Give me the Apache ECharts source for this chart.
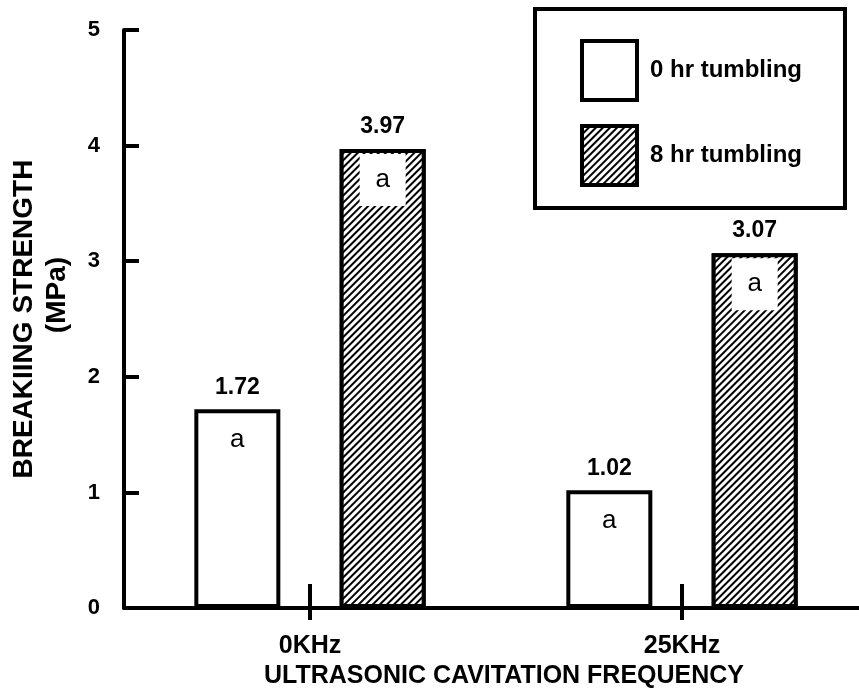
<!DOCTYPE html>
<html>
<head>
<meta charset="utf-8">
<script src="https://cdn.jsdelivr.net/npm/echarts@6/dist/echarts.min.js"></script>
<style>
html,body{margin:0;padding:0;background:#fff;overflow:hidden;}
#chart{width:880px;height:694px;}
</style>
</head>
<body>
<div id="chart"></div>
<script>
const categories = ['0KHz', '25KHz'];
const seriesNames = ['0 hr tumbling', '8 hr tumbling'];
const values0hr = [1.72, 1.02];
const values8hr = [3.97, 3.07];
const letters0hr = ['a', 'a'];
const letters8hr = ['a', 'a'];
const yTickValues = [0, 1, 2, 3, 4, 5];

const FONT = '"Liberation Sans", Arial, Helvetica, sans-serif';

const hatch = {
  symbol: 'rect',
  symbolSize: 1,
  dashArrayX: [1, 0],
  dashArrayY: [2, 3],
  rotation: -Math.PI / 4,
  color: '#000',
  backgroundColor: '#fff'
};

function makeLabel(letters) {
  return {
    show: true,
    position: 'insideTop',
    distance: 5,
    offset: [0, -54],
    formatter: p => '{v|' + p.value.toFixed(2) + '}\n{a|' + letters[p.dataIndex] + '}',
    rich: {
      v: { fontFamily: FONT, fontWeight: 'bold', fontSize: 23, lineHeight: 54, color: '#000', align: 'center' },
      a: { fontFamily: FONT, fontWeight: 'normal', fontSize: 26, height: 52, lineHeight: 52, width: 46,
           backgroundColor: '#fff', color: '#000', align: 'center' }
    }
  };
}

const chart = echarts.init(document.getElementById('chart'), null, { renderer: 'canvas' });
chart.setOption({
  backgroundColor: '#fff',
  animation: false,
  grid: { left: 124, right: 12, top: 30, bottom: 82, containLabel: false },
  legend: {
    orient: 'vertical',
    left: 535,
    top: 9,
    padding: [30, 43, 21, 45],
    itemWidth: 55,
    itemHeight: 59,
    itemGap: 22,
    borderColor: '#000',
    borderWidth: 4,
    textStyle: { fontFamily: FONT, fontWeight: 'bold', fontSize: 24, color: '#000', padding: [0, 0, 0, 8] },
    data: [
      { name: seriesNames[0], icon: 'rect', itemStyle: { color: '#fff', borderColor: '#000', borderWidth: 4 } },
      { name: seriesNames[1], icon: 'rect', itemStyle: { color: '#fff', borderColor: '#000', borderWidth: 4, decal: hatch } }
    ]
  },
  xAxis: [
    {
      type: 'category',
      data: categories,
      boundaryGap: true,
      axisLine: { show: true, lineStyle: { color: '#000', width: 4 } },
      axisTick: { show: true, alignWithLabel: true, inside: true, length: 24, lineStyle: { color: '#000', width: 4 } },
      axisLabel: { margin: 26, fontFamily: FONT, fontWeight: 'bold', fontSize: 25, color: '#000' },
      name: 'ULTRASONIC CAVITATION FREQUENCY',
      nameLocation: 'middle',
      nameGap: 53,
      nameTextStyle: { fontFamily: FONT, fontWeight: 'bold', fontSize: 25, color: '#000', padding: [0, 0, 0, 16] }
    },
    {
      type: 'category',
      data: categories,
      position: 'bottom',
      boundaryGap: true,
      axisLine: { show: false },
      axisTick: { show: true, alignWithLabel: true, inside: false, length: 12, lineStyle: { color: '#000', width: 4 } },
      axisLabel: { show: false }
    }
  ],
  yAxis: {
    type: 'value',
    min: yTickValues[0],
    max: yTickValues[yTickValues.length - 1],
    interval: 1,
    splitLine: { show: false },
    axisLine: { show: true, lineStyle: { color: '#000', width: 4 } },
    axisTick: { show: true, inside: true, length: 15, lineStyle: { color: '#000', width: 4 } },
    axisLabel: { margin: 24, fontFamily: FONT, fontWeight: 'bold', fontSize: 22, color: '#000' },
    name: '{t|BREAKIING STRENGTH}\n{m|(MPa)}',
    nameLocation: 'middle',
    nameRotate: 90,
    nameGap: 50,
    nameTextStyle: {
      rich: {
        t: { fontFamily: FONT, fontWeight: 'bold', fontSize: 28, lineHeight: 33, color: '#000', align: 'center' },
        m: { fontFamily: FONT, fontWeight: 'bold', fontSize: 28, lineHeight: 33, color: '#000', align: 'center', padding: [0, 0, 0, 48] }
      }
    }
  },
  series: [
    {
      name: seriesNames[0],
      type: 'bar',
      xAxisIndex: 0,
      barWidth: 86,
      barGap: '69%',
      data: values0hr,
      itemStyle: { color: '#fff', borderColor: '#000', borderWidth: 4 },
      label: makeLabel(letters0hr)
    },
    {
      name: seriesNames[1],
      type: 'bar',
      xAxisIndex: 0,
      barWidth: 86,
      barGap: '69%',
      data: values8hr,
      itemStyle: { color: '#fff', borderColor: '#000', borderWidth: 4, decal: hatch },
      label: makeLabel(letters8hr)
    }
  ]
});
</script>
</body>
</html>
